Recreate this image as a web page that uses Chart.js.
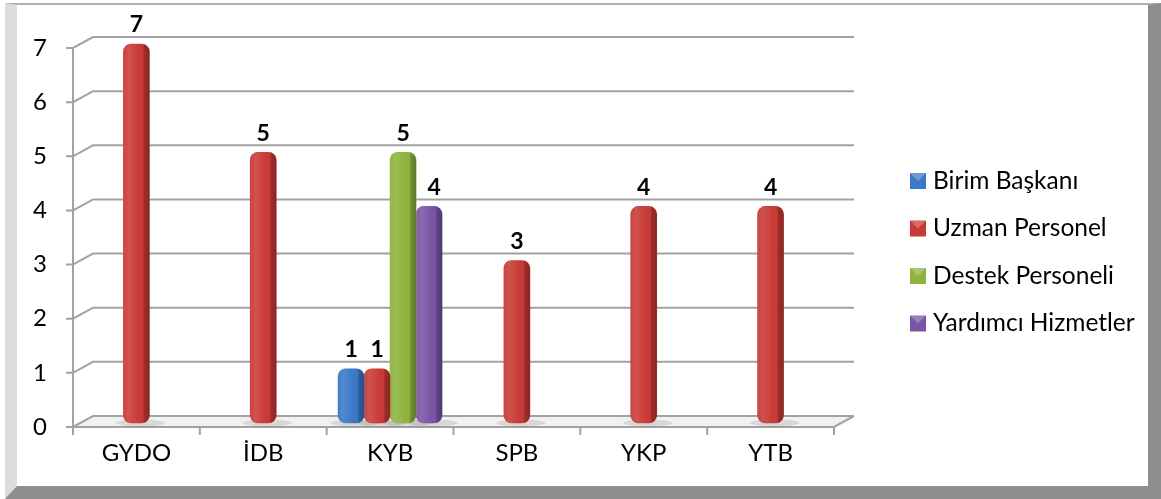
<!DOCTYPE html>
<html>
<head>
<meta charset="utf-8">
<script src="https://cdn.jsdelivr.net/npm/chart.js@4/dist/chart.umd.min.js"></script>
<style>
  html,body{margin:0;padding:0;background:#fff;width:1161px;height:499px;overflow:hidden;}
  .frame{position:absolute;left:5px;top:3px;width:1156px;height:496px;box-sizing:border-box;
    border-left:12px solid #dcdcdc;border-top:2px solid #b0b0b0;border-right:13px solid #8e8e8e;border-bottom:13px solid #8e8e8e;background:#fff;}
  canvas{position:absolute;left:0;top:0;}
</style>
</head>
<body>
<div class="frame"></div>
<canvas id="c" width="1161" height="499"></canvas>
<script>
const categories = ['GYDO', 'İDB', 'KYB', 'SPB', 'YKP', 'YTB'];
const birimBaskani = [null, null, 1, null, null, null];
const uzmanPersonel = [7, 5, 1, 3, 4, 4];
const destekPersoneli = [null, null, 5, null, null, null];
const yardimciHizmetler = [null, null, 4, null, null, null];
const seriesNames = ['Birim Başkanı', 'Uzman Personel', 'Destek Personeli', 'Yardımcı Hizmetler'];
const seriesColors = ['#3b78c6', '#c93a36', '#8cb43e', '#7955a5'];
const yMin = 0, yMax = 7, yStep = 1;

const FONT = 'Lato';
const DX = 20, DY = -11;      // 3D depth offset of back wall
const BAR_DY = -4;            // bars sit slightly behind the front plane

const depthPlugin = {
  id: 'depth',
  beforeDatasetsDraw(chart) {
    const ctx = chart.ctx, ca = chart.chartArea;
    const y = chart.scales.y;
    const y0 = y.getPixelForValue(0);
    ctx.save();
    ctx.fillStyle = '#f1f1f1';
    ctx.beginPath();
    ctx.moveTo(ca.left, y0); ctx.lineTo(ca.left + DX, y0 + DY);
    ctx.lineTo(ca.right + DX, y0 + DY); ctx.lineTo(ca.right, y0); ctx.closePath();
    ctx.fill();
    ctx.strokeStyle = '#a2a2a2';
    ctx.lineWidth = 2;
    y.ticks.forEach(t => {
      const py = y.getPixelForValue(t.value);
      ctx.beginPath();
      ctx.moveTo(ca.left - 7, py);
      ctx.lineTo(ca.left, py);
      ctx.lineTo(ca.left + DX, py + DY);
      ctx.lineTo(ca.right + DX, py + DY);
      ctx.stroke();
    });
    ctx.beginPath();
    ctx.moveTo(ca.left, y.getPixelForValue(yMax));
    ctx.lineTo(ca.left, y0);
    ctx.stroke();
    ctx.beginPath();
    ctx.moveTo(ca.left, y0);
    ctx.lineTo(ca.right, y0);
    ctx.lineTo(ca.right + DX, y0 + DY);
    ctx.stroke();
    const n = categories.length;
    const w = (ca.right - ca.left) / n;
    for (let i = 0; i <= n; i++) {
      const px = ca.left + i * w;
      ctx.beginPath();
      ctx.moveTo(px, y0);
      ctx.lineTo(px, y0 + 8);
      ctx.stroke();
    }
    chart.data.datasets.forEach((ds, di) => {
      const meta = chart.getDatasetMeta(di);
      meta.data.forEach((el, i) => {
        if (ds.data[i] == null) return;
        ctx.fillStyle = 'rgba(0,0,0,0.10)';
        ctx.beginPath();
        ctx.ellipse(el.x + 4, el.base + BAR_DY, el.width * 0.95, 3.5, 0, 0, Math.PI * 2);
        ctx.fill();
      });
    });
    ctx.restore();
    ctx.save();
    ctx.translate(0, BAR_DY);
  },
  afterDatasetsDraw(chart) {
    const ctx = chart.ctx;
    chart.data.datasets.forEach((ds, di) => {
      const meta = chart.getDatasetMeta(di);
      meta.data.forEach((el, i) => {
        if (ds.data[i] == null) return;
        const l = el.x - el.width / 2, w = el.width;
        const top = Math.min(el.y, el.base), h = Math.abs(el.base - el.y);
        const g = ctx.createLinearGradient(l, 0, l + w, 0);
        g.addColorStop(0, 'rgba(255,255,255,0.05)');
        g.addColorStop(0.2, 'rgba(255,255,255,0.12)');
        g.addColorStop(0.6, 'rgba(255,255,255,0)');
        g.addColorStop(0.76, 'rgba(0,0,0,0.04)');
        g.addColorStop(0.8, 'rgba(0,0,0,0.22)');
        g.addColorStop(1, 'rgba(0,0,0,0.32)');
        ctx.fillStyle = g;
        ctx.beginPath();
        ctx.roundRect(l, top, w, h, Math.min(8, w / 2));
        ctx.fill();
      });
    });
    ctx.restore();
    ctx.save();
    ctx.fillStyle = '#000';
    ctx.font = 'bold 23px ' + FONT;
    ctx.textAlign = 'center';
    ctx.textBaseline = 'middle';
    chart.data.datasets.forEach((ds, di) => {
      const meta = chart.getDatasetMeta(di);
      meta.data.forEach((el, i) => {
        const v = ds.data[i];
        if (v == null) return;
        ctx.fillText(String(v), el.x + (di === 3 ? 5 : 0), el.y + BAR_DY - 19);
      });
    });
    ctx.restore();
  },
  afterDraw(chart) {
    const ctx = chart.ctx;
    ctx.save();
    ctx.font = '24.5px ' + FONT;
    ctx.textBaseline = 'middle';
    ctx.textAlign = 'left';
    chart.data.datasets.forEach((ds, i) => {
      const cy = 180 + i * 47.5;
      const bx = 910, by = cy - 7, bs = 16;
      ctx.fillStyle = ds.backgroundColor;
      ctx.fillRect(bx, by, bs, bs);
      ctx.fillStyle = 'rgba(255,255,255,0.25)';
      ctx.beginPath();
      ctx.moveTo(bx, by); ctx.lineTo(bx + bs, by); ctx.lineTo(bx + bs / 2, by + bs / 2); ctx.closePath();
      ctx.fill();
      ctx.fillStyle = '#000';
      ctx.fillText(ds.label, 933, cy + 1);
    });
    ctx.restore();
  }
};

const datasets = [birimBaskani, uzmanPersonel, destekPersoneli, yardimciHizmetler].map((d, i) => ({
  label: seriesNames[i],
  data: d,
  backgroundColor: seriesColors[i],
  borderRadius: 8,
  borderSkipped: false,
  barThickness: 26,
  clip: false
}));

new Chart(document.getElementById('c'), {
  type: 'bar',
  data: { labels: categories, datasets },
  options: {
    responsive: false,
    animation: false,
    devicePixelRatio: 1,
    layout: { padding: { top: 48, right: 327, left: 0, bottom: 0 } },
    plugins: { legend: { display: false }, tooltip: { enabled: false } },
    datasets: { bar: { skipNull: true } },
    scales: {
      x: {
        grid: { display: false, drawTicks: false },
        border: { display: false },
        ticks: { color: '#000', font: { family: FONT, size: 24 }, padding: 12 },
        afterFit(s) { s.height = 72; }
      },
      y: {
        min: yMin, max: yMax,
        grid: { display: false, drawTicks: false },
        border: { display: false },
        ticks: { stepSize: yStep, color: '#000', font: { family: FONT, size: 24 }, padding: 26 },
        afterFit(s) { s.width = 73; }
      }
    }
  },
  plugins: [depthPlugin]
});
</script>
</body>
</html>
